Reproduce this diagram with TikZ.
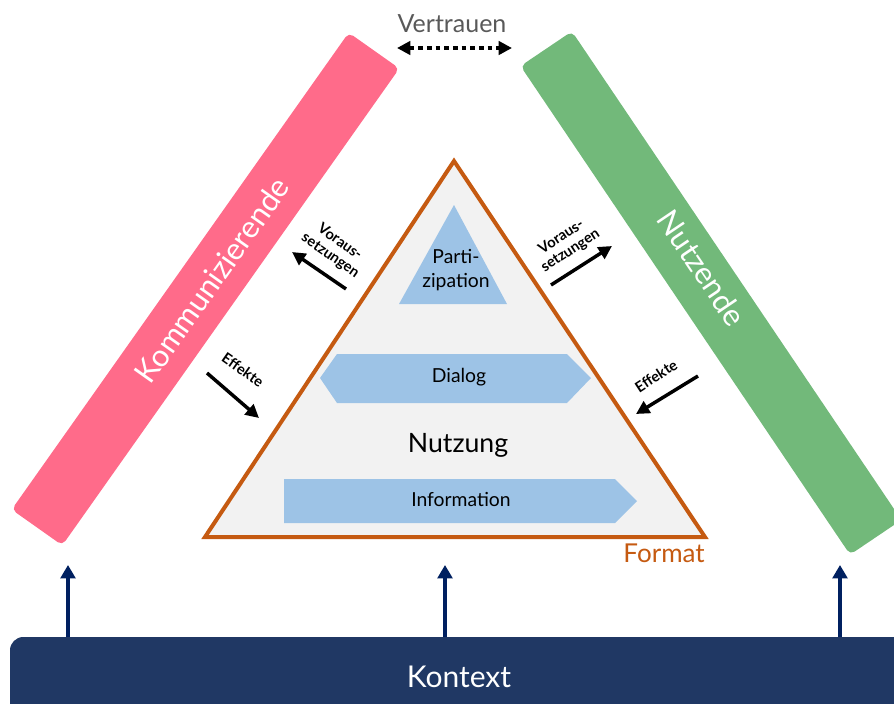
\documentclass[tikz,border=0pt]{standalone}
\usepackage{fontspec}
\setmainfont{Lato}
\usepackage{xcolor}
\usetikzlibrary{arrows.meta}

\definecolor{komm}{HTML}{FF6B8A}
\definecolor{nutz}{HTML}{72B97A}
\definecolor{formatorange}{HTML}{C55A11}
\definecolor{layerblue}{HTML}{9DC3E6}
\definecolor{kontextblue}{HTML}{203864}
\definecolor{arrowblue}{HTML}{002060}
\definecolor{trustgray}{HTML}{595959}

\begin{document}
\begin{tikzpicture}[x=0.75pt, y=-0.75pt,
    bar/.style={rounded corners=4pt, minimum height=46.5pt, inner sep=0pt},
    bartext/.style={text=white, font=\fontsize{23}{25}\selectfont},
    layer/.style={fill=layerblue},
    layertext/.style={align=center, font=\fontsize{14.5}{18.5}\selectfont},
    hint/.style={align=center, inner sep=0pt, font=\bfseries\fontsize{11}{12.5}\selectfont},
    hintarrow/.style={line width=2.6pt, -{Triangle[length=10pt, width=10pt]}},
    uparrow/.style={draw=arrowblue, line width=3pt, -{Triangle[length=10pt, width=11pt]}}]
    \useasboundingbox (0,0) rectangle (894,704);
    \clip (0,0) rectangle (894,704);

    \node[bar, fill=komm, minimum width=438pt, rotate=54.75] (kommbar) at (205.5,289) {};
      \node[bartext, rotate=54.75] (kommunizierende) at (212,280) {Kommunizierende};

    \node[bar, fill=nutz, minimum width=442pt, rotate=-56] (nutzbar) at (711,293) {};
      \node[bartext, rotate=-56] (nutzende) at (702,268) {Nutzende};

    \node[text=trustgray, font=\fontsize{18.75}{20}\selectfont] (vertrauen) at (452,24) {Vertrauen};
      \coordinate (trustL) at (397,48);
      \coordinate (trustR) at (512,48);
      \draw[line width=3pt, dash pattern=on 3.5pt off 3pt, {Triangle[length=10pt, width=10pt]}-{Triangle[length=10pt, width=10pt]}] (trustL) -- (trustR);

    \draw[draw=formatorange, fill=black!5, line width=3pt] (454,161) -- (705,537) -- (205,537) -- cycle;

    \fill[layer] (454,205) -- (507,304) -- (399,304) -- cycle;
      \node[layertext] (partizipation) at (456,270) {Parti-\\zipation};

    \fill[layer] (320,378) -- (337,354) -- (567,354) -- (591,378) -- (567,403) -- (337,403) -- cycle;
      \node[layertext] (dialog) at (459,377) {Dialog};

    \node[font=\fontsize{20}{22}\selectfont] (nutzung) at (458,445) {Nutzung};

    \fill[layer] (284,479) -- (615,479) -- (637,501) -- (615,523) -- (284,523) -- cycle;
      \node[layertext] (information) at (461,499) {Information};

    \node[text=formatorange, anchor=east, inner sep=0pt, font=\fontsize{19.5}{21}\selectfont] (format) at (705,553) {Format};

    \node[hint, rotate=-35] (vorausL) at (335,249) {Voraus-\\setzungen};
      \coordinate (vorausLa) at (346,289);
      \coordinate (vorausLb) at (292,252);
      \draw[hintarrow] (vorausLa) -- (vorausLb);

    \node[hint, rotate=-35] (effekteL) at (243,370) {Effekte};
      \coordinate (effekteLa) at (207,373);
      \coordinate (effekteLb) at (259,418);
      \draw[hintarrow] (effekteLa) -- (effekteLb);

    \node[hint, rotate=33] (vorausR) at (566,244) {Voraus-\\setzungen};
      \coordinate (vorausRa) at (551,285);
      \coordinate (vorausRb) at (612,246);
      \draw[hintarrow] (vorausRa) -- (vorausRb);

    \node[hint, rotate=33] (effekteR) at (656,376) {Effekte};
      \coordinate (effekteRa) at (698,376);
      \coordinate (effekteRb) at (636,414);
      \draw[hintarrow] (effekteRa) -- (effekteRb);

    \fill[kontextblue, rounded corners=10pt] (10,637) rectangle (940,760);
      \node[text=white, font=\fontsize{22.5}{24}\selectfont] (kontext) at (459,677) {Kontext};

    \coordinate (baseKomm) at (68,637);
    \coordinate (tipKomm) at (68,565);
      \draw[uparrow] (baseKomm) -- (tipKomm);
    \coordinate (baseNutzung) at (445,637);
    \coordinate (tipNutzung) at (445,565);
      \draw[uparrow] (baseNutzung) -- (tipNutzung);
    \coordinate (baseNutz) at (840,637);
    \coordinate (tipNutz) at (840,565);
      \draw[uparrow] (baseNutz) -- (tipNutz);
\end{tikzpicture}
\end{document}
